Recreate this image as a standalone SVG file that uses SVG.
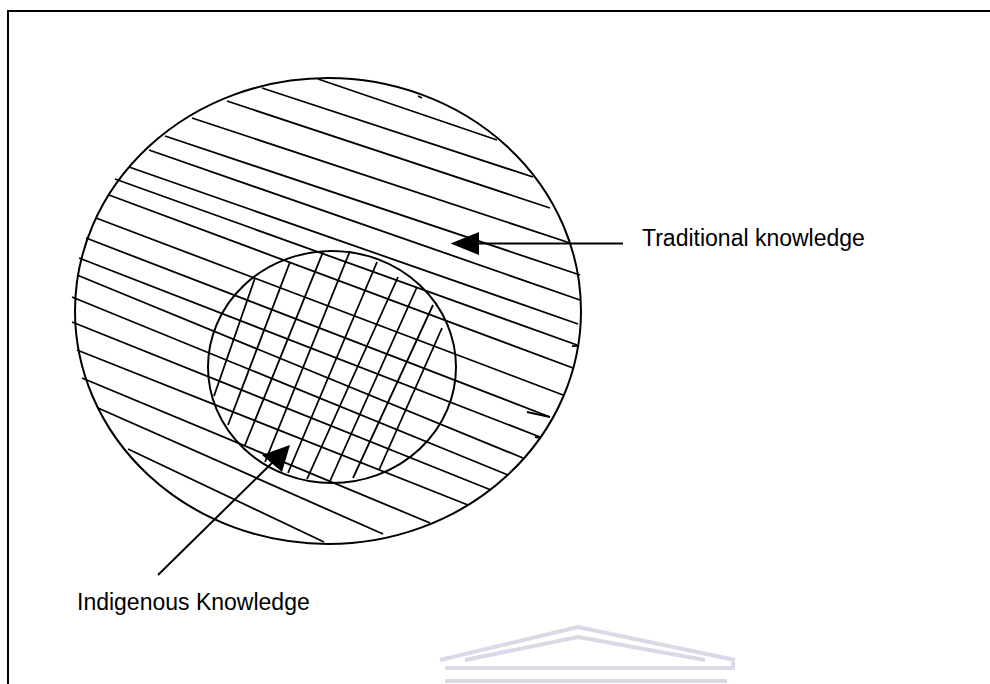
<svg xmlns="http://www.w3.org/2000/svg" width="990" height="684" viewBox="0 0 990 684">
<style>
.frame{fill:none;stroke:#000;stroke-width:2}
.outline{fill:none;stroke:#000;stroke-width:2}
.hatch{stroke:#000;stroke-width:1.8;fill:none}
.conn{stroke:#000;stroke-width:2;fill:none}
.head{fill:#000;stroke:none}
.lbl{font-family:"Liberation Sans",Arial,sans-serif;font-size:23px;fill:#000}
.wm{fill:none;stroke:#d9d9e8;stroke-width:4}
</style>
<rect width="990" height="684" fill="#fff"/>
<path class="frame" d="M8,684 V11 H990"/>

<g id="traditional-knowledge">
  <ellipse class="outline" cx="328" cy="311" rx="253" ry="233"/>
  <g class="hatch">
    <line x1="318" y1="79" x2="497" y2="140"/>
    <line x1="262" y1="88" x2="533" y2="177"/>
    <line x1="227" y1="101" x2="550" y2="208"/>
    <line x1="192" y1="118" x2="570" y2="243"/>
    <line x1="165" y1="136" x2="580" y2="275"/>
    <line x1="149" y1="150" x2="580" y2="300"/>
    <line x1="129" y1="167" x2="578" y2="324"/>
    <line x1="115" y1="179" x2="577" y2="345"/>
    <line x1="109" y1="195" x2="573" y2="368"/>
    <line x1="96" y1="218" x2="563" y2="395"/>
    <line x1="86" y1="238" x2="550" y2="417"/>
    <line x1="79" y1="258" x2="540" y2="437"/>
    <line x1="77" y1="275" x2="523" y2="458"/>
    <line x1="72" y1="297" x2="508" y2="475"/>
    <line x1="72" y1="322" x2="491" y2="490"/>
    <line x1="77" y1="350" x2="468" y2="505"/>
    <line x1="82" y1="378" x2="430" y2="523"/>
    <line x1="98" y1="408" x2="383" y2="534"/>
    <line x1="128" y1="449" x2="324" y2="542"/>
    <line x1="527" y1="412" x2="550" y2="417"/>
    <line x1="572" y1="346" x2="578" y2="346"/>
    <line x1="535" y1="437" x2="541" y2="438"/>
    <line x1="418" y1="96" x2="422" y2="98"/>
  </g>
</g>

<g id="indigenous-knowledge">
  <ellipse class="outline" cx="332" cy="367" rx="124" ry="116"/>
  <g class="hatch">
    <line x1="214" y1="396" x2="255" y2="278"/>
    <line x1="228" y1="425" x2="290" y2="262"/>
    <line x1="245" y1="445" x2="323" y2="252"/>
    <line x1="265" y1="462" x2="350" y2="251"/>
    <line x1="288" y1="473" x2="377" y2="262"/>
    <line x1="307" y1="479" x2="398" y2="277"/>
    <line x1="330" y1="481" x2="417" y2="287"/>
    <line x1="353" y1="478" x2="433" y2="305"/>
    <line x1="379" y1="470" x2="442" y2="328"/>
  </g>
</g>

<g id="connectors">
  <line class="conn" x1="623" y1="243.5" x2="476" y2="243.5"/>
  <polygon class="head" points="450.5,243.5 479,232 479,255"/>
  <line class="conn" x1="158" y1="575" x2="276" y2="459"/>
  <polygon class="head" points="290,445 262,455 282,472"/>
</g>

<g id="label-traditional">
  <text class="lbl" x="642" y="246">Traditional knowledge</text>
</g>
<g id="label-indigenous">
  <text class="lbl" x="77" y="610">Indigenous Knowledge</text>
</g>

<g id="watermark">
  <path class="wm" d="M440,660 L578,627 L735,660"/>
  <path class="wm" d="M465,660 L578,637 L705,660"/>
  <path class="wm" d="M445,668 H733 V662"/>
  <path class="wm" d="M445,681 H727"/>
</g>
</svg>
